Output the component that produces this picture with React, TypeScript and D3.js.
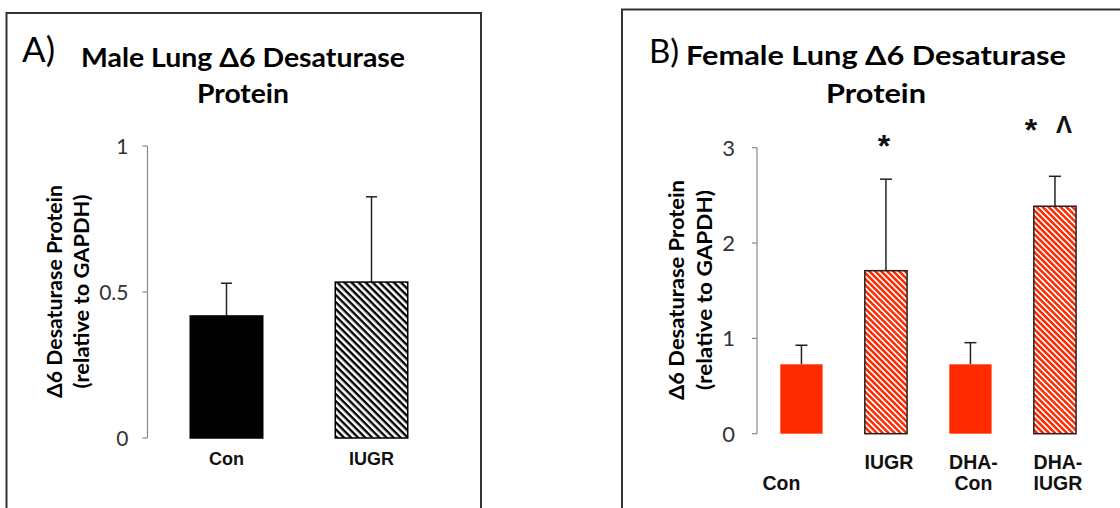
import React from "react";
import * as d3 from "d3";

// ---- data ----
const maleCategories = ["Con", "IUGR"];
const maleMeans = [0.418, 0.534];
const maleErrors = [0.112, 0.292];
const maleTicks = [0, 0.5, 1];

const femaleCategories = ["Con", "IUGR", "DHA-Con", "DHA-IUGR"];
const femaleLabelLines = [["", "Con"], ["IUGR"], ["DHA-", "Con"], ["DHA-", "IUGR"]];
const femaleMeans = [0.728, 1.71, 0.728, 2.386];
const femaleErrors = [0.2, 0.96, 0.227, 0.314];
const femaleTicks = [0, 1, 2, 3];

const RED = "#ff2a00";
const TITLE_FONT = "Lato, 'Open Sans', sans-serif";
const LABEL_FONT = "'Liberation Sans', Arial, sans-serif";

function YAxis({ y, x0, ticks, fmt, gap, size }: any) {
  const [r0, r1] = y.range();
  return (
    <g>
      <line x1={x0} x2={x0} y1={r0} y2={r1} stroke="#8a8a8a" strokeWidth={1.2} />
      {ticks.map((t: number) => (
        <g key={t}>
          <line x1={x0 - 5} x2={x0} y1={y(t)} y2={y(t)} stroke="#8a8a8a" strokeWidth={1.2} />
          <text x={x0 - gap} y={y(t)} dy="0.36em" textAnchor="end" fontFamily={TITLE_FONT} fontSize={size} fill="#333">
            {fmt(t)}
          </text>
        </g>
      ))}
    </g>
  );
}

function YLabel({ cx, cy, gap, size, len1, len2 }: any) {
  return (
    <g transform={`translate(${cx},${cy}) rotate(-90)`}>
      <text x={0} y={0} textAnchor="middle" dominantBaseline="central" fontFamily={TITLE_FONT} fontWeight="bold" fontSize={size} fill="#000"
        textLength={len1} lengthAdjust="spacingAndGlyphs">
        Δ6 Desaturase Protein
      </text>
      <text x={0} y={gap} textAnchor="middle" dominantBaseline="central" fontFamily={TITLE_FONT} fontWeight="bold" fontSize={size} fill="#000"
        textLength={len2} lengthAdjust="spacingAndGlyphs">
        (relative to GAPDH)
      </text>
    </g>
  );
}

export default function App() {
  // Panel A scales
  const yA = d3.scaleLinear().domain([0, 1]).range([438, 146]);
  const xA = d3.scaleBand().domain(maleCategories).range([154, 444]).paddingInner(0.5).paddingOuter(0.25);
  // Panel B scales
  const yB = d3.scaleLinear().domain([0, 3]).range([433.7, 147.7]);
  const xB = d3.scaleBand().domain(femaleCategories).range([759.2, 1097.2]).paddingInner(0.5).paddingOuter(0.25);

  const fmtA = (v: number) => (v === 0 ? "0" : v === 1 ? "1" : d3.format(".1f")(v));
  const fmtB = (v: number) => d3.format("d")(v);
  const cB = (c: string) => xB(c)! + xB.bandwidth() / 2;

  return (
    <svg width={1120} height={508} style={{ position: "absolute", left: 0, top: 0, background: "#fff" }}>
      <defs>
        <pattern id="hatchBlack" patternUnits="userSpaceOnUse" width={5} height={5} patternTransform="rotate(45)">
          <rect width={5} height={5} fill="#fff" />
          <rect width={5} height={2.4} fill="#000" />
        </pattern>
        <pattern id="hatchRed" patternUnits="userSpaceOnUse" width={4.2} height={4.2} patternTransform="rotate(45)">
          <rect width={4.2} height={4.2} fill="#fff" />
          <rect width={4.2} height={2.5} fill={RED} />
        </pattern>
      </defs>

      {/* Panel frames */}
      <rect x={6.5} y={13} width={474.5} height={510} fill="none" stroke="#333" strokeWidth={2} />
      <rect x={622} y={9.5} width={510} height={510} fill="none" stroke="#333" strokeWidth={2} />

      {/* ---------- Panel A ---------- */}
      <text x={22} y={62} fontFamily={TITLE_FONT} fontSize={35} fill="#000">A)</text>
      <text x={243} y={67} textAnchor="middle" fontFamily={TITLE_FONT} fontWeight="bold" fontSize={27}
        textLength={324} lengthAdjust="spacingAndGlyphs" fill="#000">
        Male Lung Δ6 Desaturase
      </text>
      <text x={243} y={103} textAnchor="middle" fontFamily={TITLE_FONT} fontWeight="bold" fontSize={27}
        textLength={92} lengthAdjust="spacingAndGlyphs" fill="#000">
        Protein
      </text>
      <YLabel cx={54} cy={291.5} gap={27} size={20} len1={213} len2={194} />
      <YAxis y={yA} x0={147.5} ticks={maleTicks} fmt={fmtA} gap={19} size={21} />
      {maleCategories.map((c, i) => {
        const x = xA(c)!;
        const w = xA.bandwidth();
        const cx = x + w / 2;
        const top = yA(maleMeans[i]);
        const etop = yA(maleMeans[i] + maleErrors[i]);
        return (
          <g key={c}>
            <line x1={cx} x2={cx} y1={top} y2={etop} stroke="#222" strokeWidth={1.5} />
            <line x1={cx - 5.5} x2={cx + 5.5} y1={etop} y2={etop} stroke="#222" strokeWidth={1.5} />
            <rect x={x} y={top} width={w} height={yA(0) - top}
              fill={i === 0 ? "#000" : "url(#hatchBlack)"} stroke="#000" strokeWidth={1.5} />
            <text x={cx} y={465} textAnchor="middle" fontFamily={LABEL_FONT} fontWeight="bold" fontSize={18} fill="#111">
              {c}
            </text>
          </g>
        );
      })}

      {/* ---------- Panel B ---------- */}
      <text x={649} y={63} fontFamily={TITLE_FONT} fontSize={33} fill="#000">B)</text>
      <text x={876} y={65} textAnchor="middle" fontFamily={TITLE_FONT} fontWeight="bold" fontSize={27}
        textLength={380} lengthAdjust="spacingAndGlyphs" fill="#000">
        Female Lung Δ6 Desaturase
      </text>
      <text x={876} y={103} textAnchor="middle" fontFamily={TITLE_FONT} fontWeight="bold" fontSize={27}
        textLength={100} lengthAdjust="spacingAndGlyphs" fill="#000">
        Protein
      </text>
      <YLabel cx={676} cy={290} gap={28} size={20.5} len1={220} len2={200} />
      <YAxis y={yB} x0={757} ticks={femaleTicks} fmt={fmtB} gap={22} size={22} />
      {femaleCategories.map((c, i) => {
        const x = xB(c)!;
        const w = xB.bandwidth();
        const cx = x + w / 2;
        const top = yB(femaleMeans[i]);
        const etop = yB(femaleMeans[i] + femaleErrors[i]);
        const hatched = i % 2 === 1;
        const lines = femaleLabelLines[i];
        const lx = cx + (lines[0] === "" ? -20 : 3);
        return (
          <g key={c}>
            <line x1={cx} x2={cx} y1={top} y2={etop} stroke="#222" strokeWidth={1.5} />
            <line x1={cx - 6} x2={cx + 6} y1={etop} y2={etop} stroke="#222" strokeWidth={1.5} />
            <rect x={x} y={top} width={w} height={yB(0) - top}
              fill={hatched ? "url(#hatchRed)" : RED}
              stroke={hatched ? "#222" : "none"} strokeWidth={1.5} />
            <text textAnchor="middle" fontFamily={LABEL_FONT} fontWeight="bold" fontSize={19.5} fill="#111">
              {lines.map((ln, k) => (
                <tspan key={k} x={lx} y={468.5 + k * 21}>{ln}</tspan>
              ))}
            </text>
          </g>
        );
      })}
      {/* significance markers */}
      <text x={cB("IUGR") - 2} y={157} textAnchor="middle" fontFamily={LABEL_FONT} fontWeight="bold" fontSize={32} fill="#111">
        *
      </text>
      <text x={cB("DHA-IUGR") - 24} y={141} textAnchor="middle" fontFamily={LABEL_FONT} fontWeight="bold" fontSize={32} fill="#111">
        *
      </text>
      <text x={cB("DHA-IUGR") + 9} y={133} textAnchor="middle" fontFamily={LABEL_FONT} fontWeight="bold" fontSize={24} fill="#111">
        Λ
      </text>
    </svg>
  );
}
